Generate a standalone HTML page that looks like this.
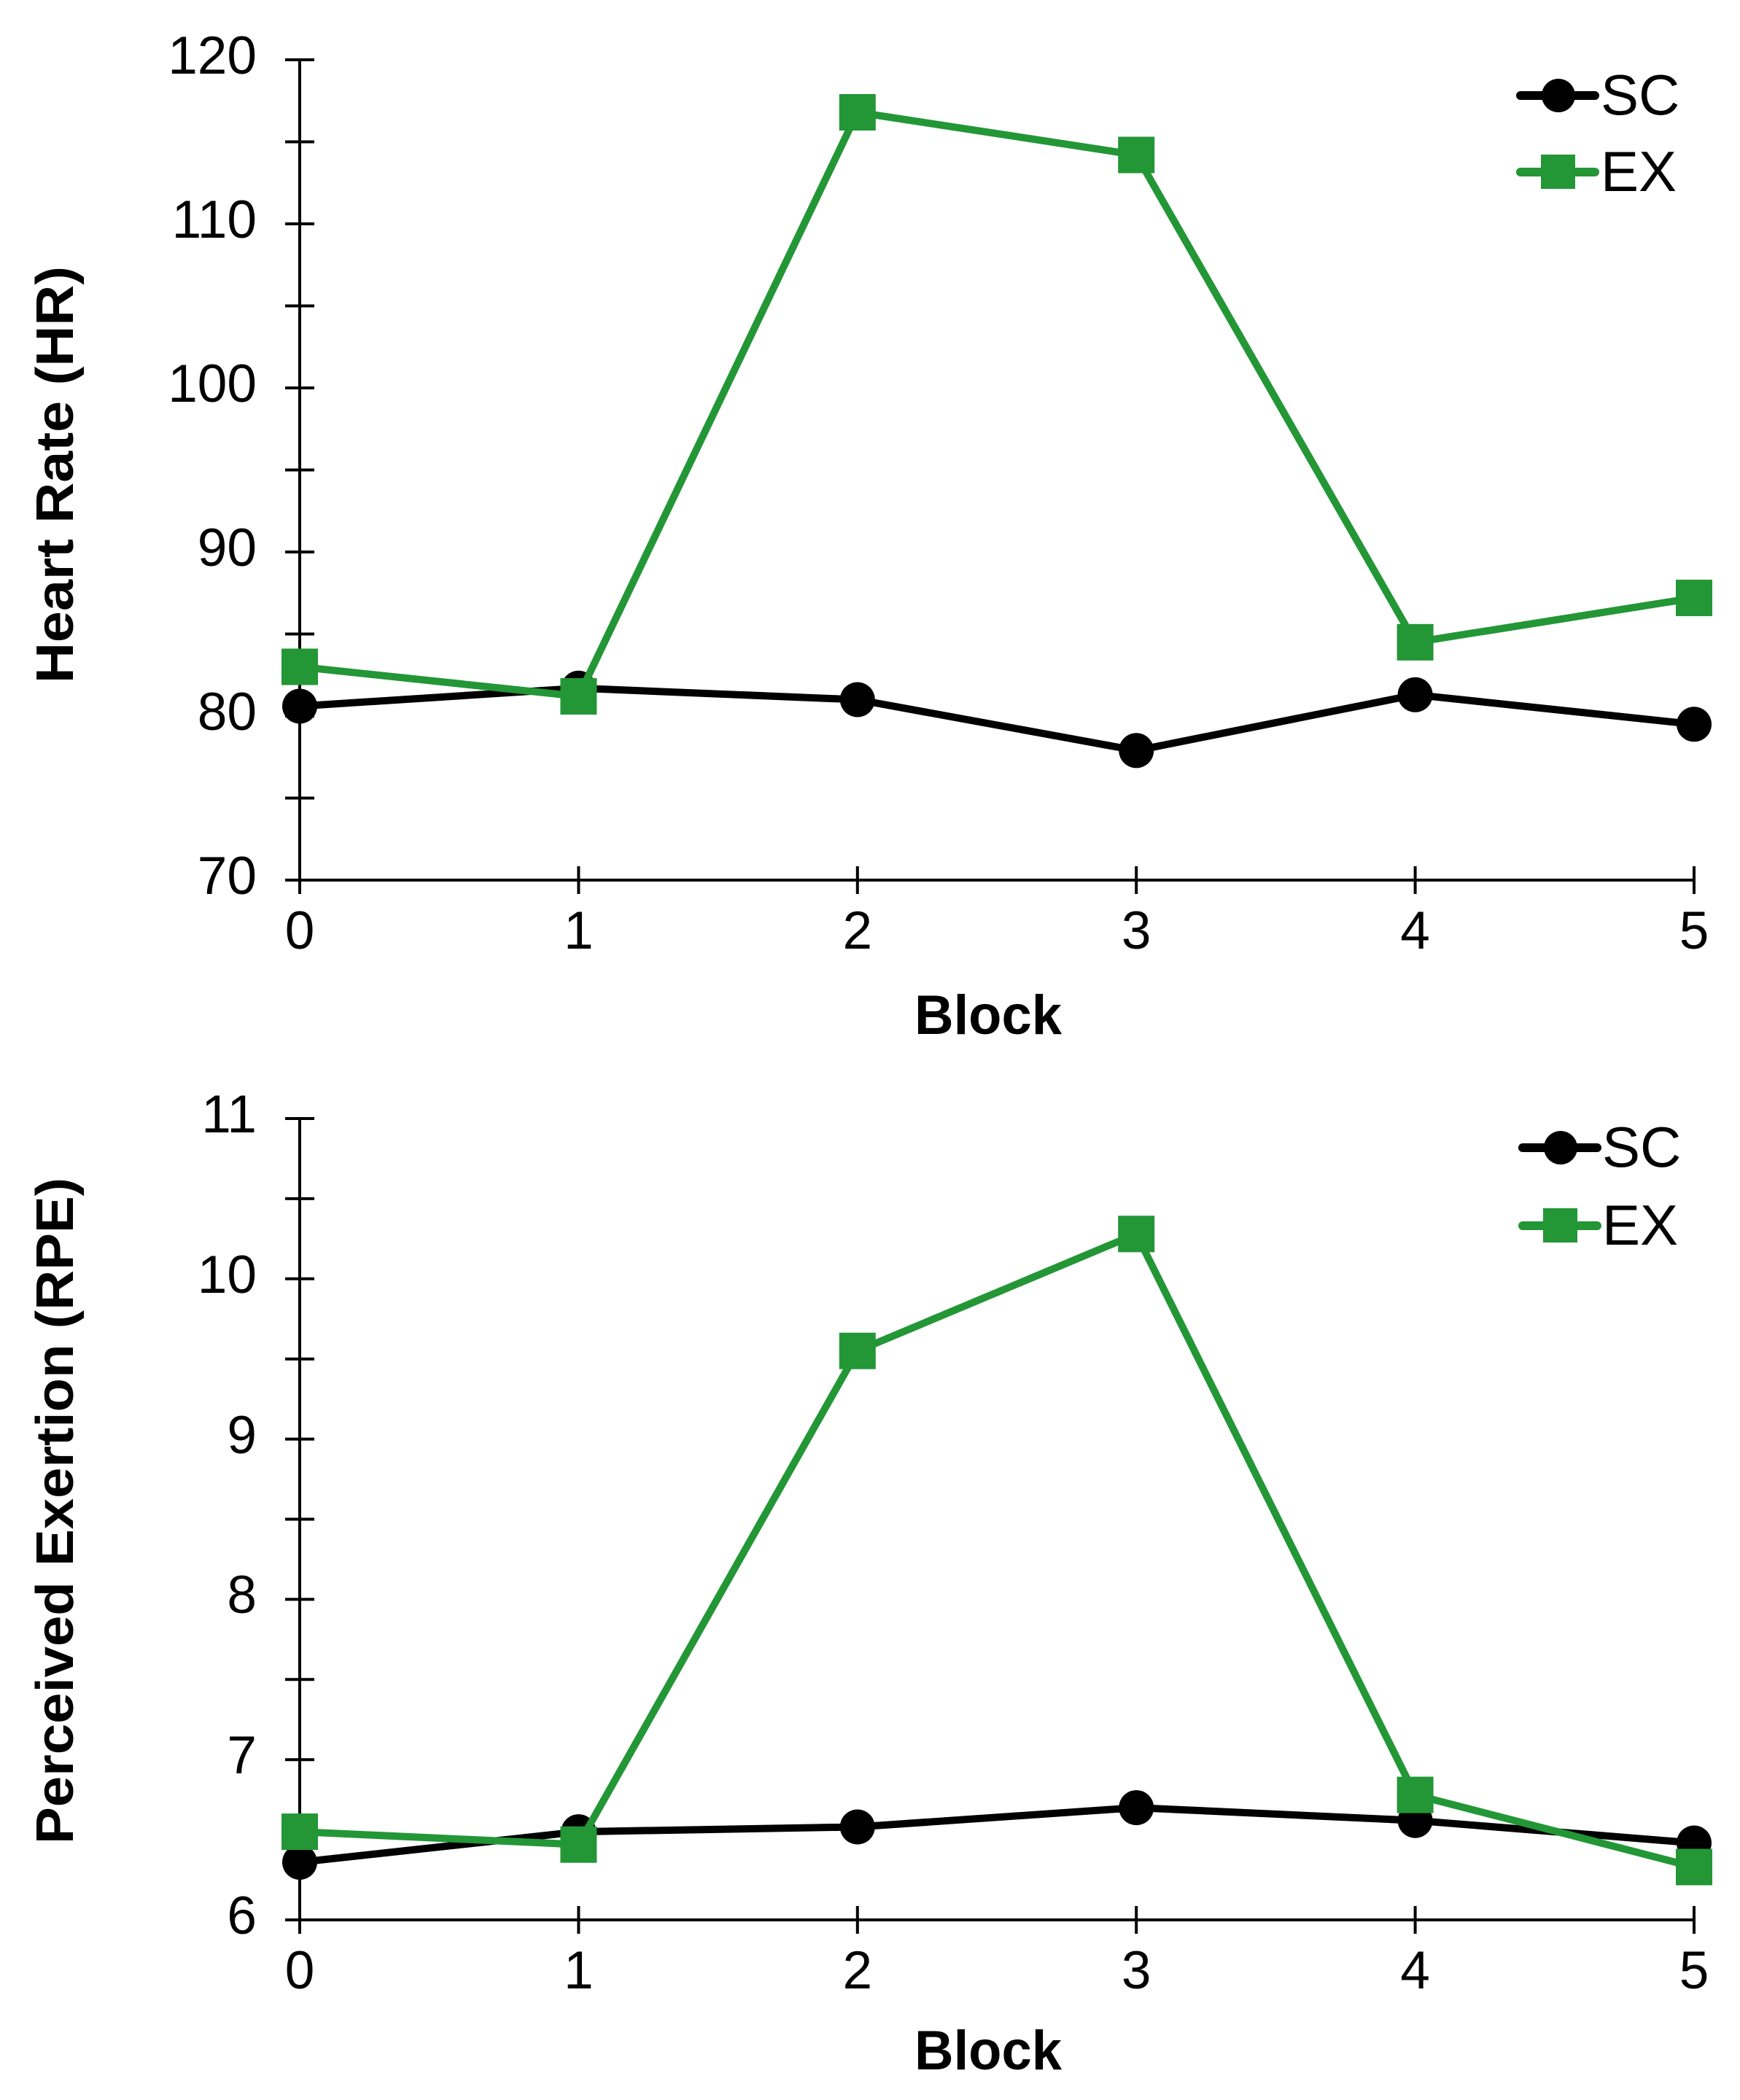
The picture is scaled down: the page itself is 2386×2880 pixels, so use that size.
<!DOCTYPE html>
<html><head><meta charset="utf-8"><style>html,body{margin:0;padding:0;background:#fff}svg{display:block}</style></head>
<body>
<svg width="2386" height="2880" viewBox="0 0 2386 2880" xmlns="http://www.w3.org/2000/svg" font-family="Liberation Sans, Arial, sans-serif">
<rect width="2386" height="2880" fill="#fff"/>
<!-- TOP CHART -->
<g stroke="#000" stroke-width="4" fill="none">
<line x1="411" y1="82" x2="411" y2="1207"/>
<line x1="411" y1="1207" x2="2323" y2="1207"/>
<line x1="391" y1="82" x2="431" y2="82"/>
<line x1="391" y1="194.5" x2="431" y2="194.5"/>
<line x1="391" y1="307" x2="431" y2="307"/>
<line x1="391" y1="419.5" x2="431" y2="419.5"/>
<line x1="391" y1="532" x2="431" y2="532"/>
<line x1="391" y1="644.5" x2="431" y2="644.5"/>
<line x1="391" y1="757" x2="431" y2="757"/>
<line x1="391" y1="869.5" x2="431" y2="869.5"/>
<line x1="391" y1="982" x2="431" y2="982"/>
<line x1="391" y1="1094.5" x2="431" y2="1094.5"/>
<line x1="391" y1="1207" x2="431" y2="1207"/>
<line x1="411" y1="1188" x2="411" y2="1226"/>
<line x1="793.4" y1="1188" x2="793.4" y2="1226"/>
<line x1="1175.8" y1="1188" x2="1175.8" y2="1226"/>
<line x1="1558.2" y1="1188" x2="1558.2" y2="1226"/>
<line x1="1940.6" y1="1188" x2="1940.6" y2="1226"/>
<line x1="2323" y1="1188" x2="2323" y2="1226"/>
</g>
<g font-size="73" text-anchor="end" fill="#000">
<text x="352" y="101">120</text>
<text x="352" y="326">110</text>
<text x="352" y="551">100</text>
<text x="352" y="776">90</text>
<text x="352" y="1001">80</text>
<text x="352" y="1226">70</text>
</g>
<g font-size="73" text-anchor="middle" fill="#000">
<text x="411" y="1301">0</text>
<text x="793.4" y="1301">1</text>
<text x="1175.8" y="1301">2</text>
<text x="1558.2" y="1301">3</text>
<text x="1940.6" y="1301">4</text>
<text x="2323" y="1301">5</text>
</g>
<text x="1355" y="1418" font-size="76" font-weight="bold" text-anchor="middle" textLength="202" lengthAdjust="spacingAndGlyphs">Block</text>
<text transform="translate(100,651) rotate(-90)" font-size="72" font-weight="bold" text-anchor="middle" textLength="572" lengthAdjust="spacingAndGlyphs">Heart Rate (HR)</text>
<polyline points="411,968.5 793.4,943.8 1175.8,959.5 1558.2,1029.3 1940.6,952.8 2323,993.3" fill="none" stroke="#000" stroke-width="10" stroke-linejoin="round"/>
<g fill="#000">
<circle cx="411" cy="968.5" r="24"/><circle cx="793.4" cy="943.8" r="24"/><circle cx="1175.8" cy="959.5" r="24"/><circle cx="1558.2" cy="1029.3" r="24"/><circle cx="1940.6" cy="952.8" r="24"/><circle cx="2323" cy="993.3" r="24"/>
</g>
<polyline points="411,914.5 793.4,955 1175.8,154 1558.2,212.5 1940.6,880.8 2323,820" fill="none" stroke="#239636" stroke-width="10" stroke-linejoin="round"/>
<g fill="#239636">
<rect x="386" y="889.5" width="50" height="50"/><rect x="768.4" y="930" width="50" height="50"/><rect x="1150.8" y="129" width="50" height="50"/><rect x="1533.2" y="187.5" width="50" height="50"/><rect x="1915.6" y="855.8" width="50" height="50"/><rect x="2298" y="795" width="50" height="50"/>
</g>
<line x1="2085" y1="131" x2="2187" y2="131" stroke="#000" stroke-width="12" stroke-linecap="round"/>
<circle cx="2137" cy="131" r="23" fill="#000"/>
<line x1="2085" y1="236" x2="2187" y2="236" stroke="#239636" stroke-width="12" stroke-linecap="round"/>
<rect x="2113" y="212" width="47" height="47" fill="#239636"/>
<text x="2195" y="157" font-size="78">SC</text>
<text x="2195" y="262" font-size="78">EX</text>

<!-- BOTTOM CHART -->
<g stroke="#000" stroke-width="4" fill="none">
<line x1="411" y1="1534" x2="411" y2="2633"/>
<line x1="411" y1="2633" x2="2323" y2="2633"/>
<line x1="391" y1="1534" x2="431" y2="1534"/>
<line x1="391" y1="1643.9" x2="431" y2="1643.9"/>
<line x1="391" y1="1753.8" x2="431" y2="1753.8"/>
<line x1="391" y1="1863.7" x2="431" y2="1863.7"/>
<line x1="391" y1="1973.6" x2="431" y2="1973.6"/>
<line x1="391" y1="2083.5" x2="431" y2="2083.5"/>
<line x1="391" y1="2193.4" x2="431" y2="2193.4"/>
<line x1="391" y1="2303.3" x2="431" y2="2303.3"/>
<line x1="391" y1="2413.2" x2="431" y2="2413.2"/>
<line x1="391" y1="2523.1" x2="431" y2="2523.1"/>
<line x1="391" y1="2633" x2="431" y2="2633"/>
<line x1="411" y1="2614" x2="411" y2="2652"/>
<line x1="793.4" y1="2614" x2="793.4" y2="2652"/>
<line x1="1175.8" y1="2614" x2="1175.8" y2="2652"/>
<line x1="1558.2" y1="2614" x2="1558.2" y2="2652"/>
<line x1="1940.6" y1="2614" x2="1940.6" y2="2652"/>
<line x1="2323" y1="2614" x2="2323" y2="2652"/>
</g>
<g font-size="73" text-anchor="end" fill="#000">
<text x="352" y="1553">11</text>
<text x="352" y="1773">10</text>
<text x="352" y="1993">9</text>
<text x="352" y="2212">8</text>
<text x="352" y="2432">7</text>
<text x="352" y="2652">6</text>
</g>
<g font-size="73" text-anchor="middle" fill="#000">
<text x="411" y="2727">0</text>
<text x="793.4" y="2727">1</text>
<text x="1175.8" y="2727">2</text>
<text x="1558.2" y="2727">3</text>
<text x="1940.6" y="2727">4</text>
<text x="2323" y="2727">5</text>
</g>
<text x="1355" y="2838" font-size="76" font-weight="bold" text-anchor="middle" textLength="202" lengthAdjust="spacingAndGlyphs">Block</text>
<text transform="translate(100,2072) rotate(-90)" font-size="72" font-weight="bold" text-anchor="middle" textLength="914" lengthAdjust="spacingAndGlyphs">Perceived Exertion (RPE)</text>
<polyline points="411,2553.9 793.4,2512.1 1175.8,2505.5 1558.2,2479.1 1940.6,2496.7 2323,2527.5" fill="none" stroke="#000" stroke-width="10" stroke-linejoin="round"/>
<g fill="#000">
<circle cx="411" cy="2553.9" r="24"/><circle cx="793.4" cy="2512.1" r="24"/><circle cx="1175.8" cy="2505.5" r="24"/><circle cx="1558.2" cy="2479.1" r="24"/><circle cx="1940.6" cy="2496.7" r="24"/><circle cx="2323" cy="2527.5" r="24"/>
</g>
<polyline points="411,2512.1 793.4,2529.7 1175.8,1852.7 1558.2,1692.3 1940.6,2461.6 2323,2560.5" fill="none" stroke="#239636" stroke-width="10" stroke-linejoin="round"/>
<g fill="#239636">
<rect x="386" y="2487.1" width="50" height="50"/><rect x="768.4" y="2504.7" width="50" height="50"/><rect x="1150.8" y="1827.7" width="50" height="50"/><rect x="1533.2" y="1667.3" width="50" height="50"/><rect x="1915.6" y="2436.6" width="50" height="50"/><rect x="2298" y="2535.5" width="50" height="50"/>
</g>
<line x1="2088" y1="1574" x2="2190" y2="1574" stroke="#000" stroke-width="12" stroke-linecap="round"/>
<circle cx="2140" cy="1574" r="23" fill="#000"/>
<line x1="2088" y1="1681" x2="2190" y2="1681" stroke="#239636" stroke-width="12" stroke-linecap="round"/>
<rect x="2116" y="1657" width="47" height="47" fill="#239636"/>
<text x="2197" y="1600" font-size="78">SC</text>
<text x="2197" y="1707" font-size="78">EX</text>
</svg>
</body></html>
